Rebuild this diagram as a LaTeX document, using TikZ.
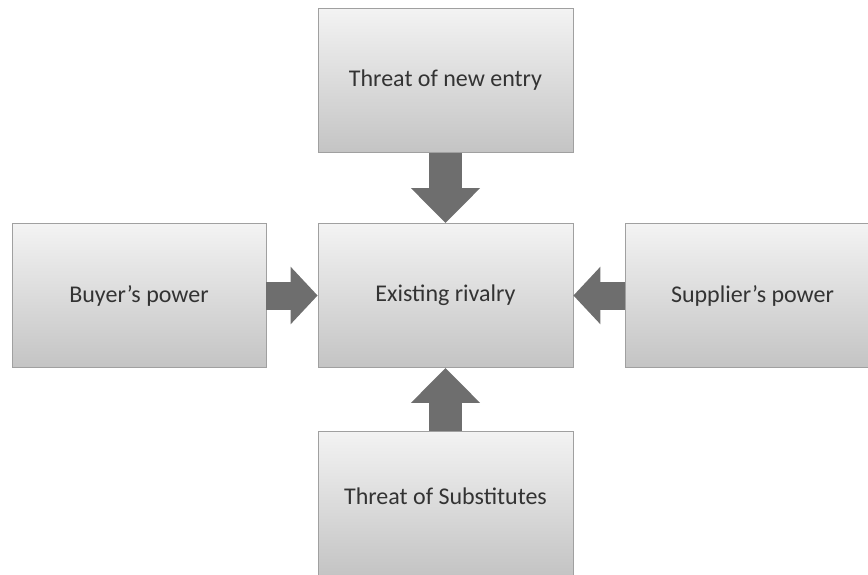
\documentclass[tikz,border=0pt]{standalone}
\usepackage{fontspec}
\setmainfont{Carlito}
\usetikzlibrary{arrows.meta, positioning}
\definecolor{boxtop}{HTML}{F3F3F3}
\definecolor{boxbottom}{HTML}{C4C4C4}
\definecolor{boxline}{HTML}{A0A0A0}
\definecolor{arrowfill}{HTML}{6E6E6E}
\definecolor{labeltext}{HTML}{333333}
\tikzset{
   forcebox/.style={
     draw=boxline, line width=0.8pt,
     top color=boxtop, bottom color=boxbottom,
     minimum width=255pt, minimum height=144pt,
     inner sep=0pt, text=labeltext,
     font=\fontsize{24}{28}\selectfont
   },
   varrow/.style={
      draw=arrowfill, line width=33pt,
      -{Triangle[width=67pt,length=35pt]}
   },
   harrow/.style={
      draw=arrowfill, line width=28pt,
      -{Triangle[width=56pt,length=27pt]}
   }
}

\begin{document}
\begin{tikzpicture}[x=1pt,y=-1pt]
            \clip (0,0) rectangle (868,574);
            \node[forcebox](newentry) at (445.5,80.5) {Threat of new entry};
            \node[forcebox](rivalry) at (445.5,295.5) {Existing rivalry};
            \node[forcebox, minimum width=254pt](buyer) at (139,295.5) {Buyer's power};
            \node[forcebox](supplier) at (752.5,295.5) {Supplier's power};
            \node[forcebox](substitutes) at (445.5,503) {\raisebox{13pt}{Threat of Substitutes}};

            \draw[varrow] (newentry) -- (rivalry);
            \draw[harrow] (buyer) -- (rivalry);
            \draw[harrow] (supplier) -- (rivalry);
            \draw[varrow] (substitutes) -- (rivalry);
         \end{tikzpicture}
\end{document}
